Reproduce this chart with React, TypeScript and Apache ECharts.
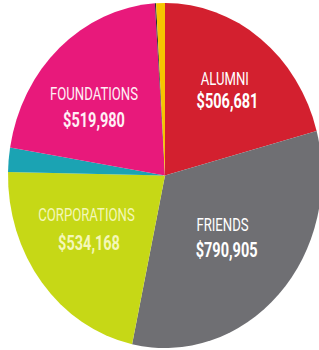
import React, { useEffect, useRef } from "react";
import * as echarts from "echarts";

const categories = ["ALUMNI", "FRIENDS", "CORPORATIONS", "OTHER", "FOUNDATIONS", "OTHER 2", "OTHER 3"];
const amounts = [506681, 790905, 534168, 55000, 519980, 3000, 22000];
const labelled = [true, true, true, false, true, false, false];

const colors = ["#D3202F", "#6F6F73", "#C6D816", "#1BA3B3", "#E8197B", "#2A2A38", "#F6C500"];
const textColors = ["#FFFFFF", "#FFFFFF", "#F4F7B8", "#FFFFFF", "#FFF0F6", "#FFFFFF", "#FFFFFF"];
// label layout (chart coordinates, before the horizontal squeeze): name centre x, amount centre x, name y, amount y
const labelLayout: [number, number, number, number][] = [
  [247, 250, 79, 100],
  [244.5, 249, 225, 249.5],
  [95, 97.8, 215, 242.5],
  [0, 0, 0, 0],
  [103.3, 103.3, 94, 119.5],
  [0, 0, 0, 0],
  [0, 0, 0, 0],
];

const SX = 0.91;
const TEXT_SX = 0.76;
const FONT = "Roboto, 'Noto Sans', sans-serif";

function fmt(v: number) {
  return "$" + v.toLocaleString("en-US");
}

export default function App() {
  const ref = useRef<HTMLDivElement>(null);
  useEffect(() => {
    document.body.style.margin = "0";
    const chart = echarts.init(ref.current!, null, { renderer: "svg" });
    const texts: any[] = [];
    categories.forEach((c, i) => {
      if (!labelled[i]) return;
      const L = labelLayout[i];
      texts.push({
        type: "text",
        z: 100,
        x: L[0],
        y: L[2],
        scaleX: TEXT_SX,
        style: {
          text: c,
          fontSize: 19,
          fontFamily: FONT,
          fill: textColors[i],
          align: "center",
          verticalAlign: "middle",
        },
      });
      texts.push({
        type: "text",
        z: 100,
        x: L[1],
        y: L[3],
        scaleX: TEXT_SX,
        style: {
          text: fmt(amounts[i]),
          fontSize: 21,
          fontWeight: "bold",
          fontFamily: FONT,
          fill: textColors[i],
          align: "center",
          verticalAlign: "middle",
        },
      });
    });
    chart.setOption({
      animation: false,
      backgroundColor: "#ffffff",
      series: [
        {
          type: "pie",
          center: [181.3, 175.5],
          radius: 172.5,
          startAngle: 90,
          clockwise: true,
          itemStyle: { borderWidth: 0 },
          emphasis: { disabled: true },
          label: { show: false },
          labelLine: { show: false },
          data: categories.map((c, i) => ({
            name: c,
            value: amounts[i],
            itemStyle: { color: colors[i] },
          })),
        },
      ],
      graphic: { elements: texts },
    });
    return () => chart.dispose();
  }, []);
  return (
    <div style={{ position: "fixed", left: 0, top: 0, width: 319, height: 350, overflow: "hidden", background: "#fff" }}>
      <div
        ref={ref}
        style={{ width: 352, height: 350, transform: `scaleX(${SX})`, transformOrigin: "0 0" }}
      />
    </div>
  );
}
